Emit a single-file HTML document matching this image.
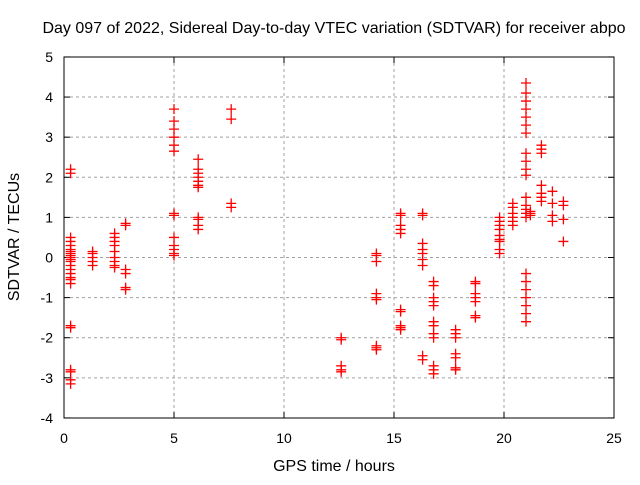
<!DOCTYPE html>
<html><head><meta charset="utf-8"><style>
body{margin:0;background:#fff}
svg text{font-family:"Liberation Sans",sans-serif;font-size:14px;fill:#000}
svg text.big{font-size:16px}
</style></head><body>
<svg id="c" width="640" height="480">
<rect width="640" height="480" fill="#fff"/>
<text class="big" x="334" y="33" text-anchor="middle">Day 097 of 2022, Sidereal Day-to-day VTEC variation (SDTVAR) for receiver abpo</text>
<text class="big" x="334" y="471" text-anchor="middle">GPS time / hours</text>
<text class="big" transform="translate(19,237) rotate(-90)" text-anchor="middle">SDTVAR / TECUs</text>
<g id="grid"></g><g id="marks"></g>
<rect x="64" y="57" width="550" height="361" fill="none" stroke="#000" stroke-width="1"/>
</svg>
<script>
const xTicks=[0,5,10,15,20,25];
const yTicks=[-4,-3,-2,-1,0,1,2,3,4,5];
const clusterHours=[0.3,1.3,2.3,2.8,5.0,6.1,7.6,12.6,14.2,15.3,16.3,16.8,17.8,18.7,19.8,20.4,21.0,21.2,21.7,22.2,22.7];
const clusterValues=[
[0.5,0.4,0.3,0.2,0.15,0.1,0.05,0,-0.05,-0.1,-0.2,-0.3,-0.4,-0.5,-0.55,-0.65,2.2,2.1,-1.7,-1.75,-2.8,-2.85,-3.05,-3.15],
[0.15,0.1,0.0,-0.1,-0.2],
[0.6,0.5,0.4,0.3,0.15,0,-0.1,-0.2,-0.25],
[0.85,0.8,-0.3,-0.4,-0.75,-0.8],
[3.7,3.4,3.2,3.0,2.8,2.65,1.1,1.05,0.5,0.3,0.2,0.1,0.05],
[2.45,2.2,2.1,2.0,1.9,1.8,1.75,1.0,0.95,0.8,0.7],
[3.7,3.45,1.35,1.25],
[-2.0,-2.05,-2.7,-2.8,-2.85],
[0.1,0.05,-0.1,-0.9,-1.0,-1.05,-2.2,-2.25,-2.3],
[1.1,1.05,0.8,0.7,0.6,-1.3,-1.35,-1.7,-1.75,-1.8],
[1.1,1.05,0.35,0.2,0.1,-0.05,-0.2,-2.45,-2.55],
[-0.6,-0.7,-1.0,-1.1,-1.2,-1.6,-1.7,-1.9,-2.0,-2.7,-2.8,-2.9],
[-1.8,-1.9,-2.0,-2.4,-2.5,-2.75,-2.8],
[-0.6,-0.65,-0.9,-1.0,-1.1,-1.45,-1.5],
[1.0,0.9,0.8,0.7,0.55,0.45,0.4,0.2,0.1],
[1.35,1.25,1.1,1.0,0.9,0.8],
[1.5,1.3,1.2,1.1,1.0,4.35,4.1,3.9,3.7,3.5,3.3,3.1,2.6,2.4,2.2,2.05,-0.4,-0.6,-0.8,-1.0,-1.2,-1.4,-1.6],
[1.15,1.1,1.05],
[2.8,2.7,2.6,1.8,1.6,1.5,1.4],
[1.65,1.35,1.05,0.9],
[1.4,1.3,0.95,0.4]];
const NS="http://www.w3.org/2000/svg";
const X=v=>64+v*22, Y=v=>257.5-v*40.11;
const g=document.getElementById('grid'), m=document.getElementById('marks');
function mk(t,a,p){const e=document.createElementNS(NS,t);for(const k in a)e.setAttribute(k,a[k]);p.appendChild(e);return e;}
xTicks.forEach(t=>{const x=X(t);
 if(t>0&&t<25){const l=mk('line',{x1:x,x2:x,y1:57,y2:418,stroke:'#a0a0a0','stroke-dasharray':'3,3'},g);
 
 }
 mk('line',{x1:x,x2:x,y1:418,y2:412,stroke:'#000'},g);mk('line',{x1:x,x2:x,y1:57,y2:63,stroke:'#000'},g);
 const tx=mk('text',{x:x,y:443,'text-anchor':'middle'},g);tx.textContent=t;
 
 });
yTicks.forEach(t=>{const y=Y(t);
 if(t>-4&&t<5){const l=mk('line',{x1:64,x2:614,y1:y,y2:y,stroke:'#a0a0a0','stroke-dasharray':'3,3'},g);
 
 }
 mk('line',{x1:64,x2:70,y1:y,y2:y,stroke:'#000'},g);mk('line',{x1:614,x2:608,y1:y,y2:y,stroke:'#000'},g);
 const tx=mk('text',{x:53,y:y+5,'text-anchor':'end'},g);tx.textContent=t;
 
 });
clusterHours.forEach((h,i)=>{clusterValues[i].forEach(v=>{const x=X(h),y=Y(v);
 const p=mk('path',{d:`M${x-5},${y}h10M${x},${y-5}v10`,stroke:'#f00','stroke-width':1.3,fill:'none'},m);
 
 });});
</script>
</body></html>
